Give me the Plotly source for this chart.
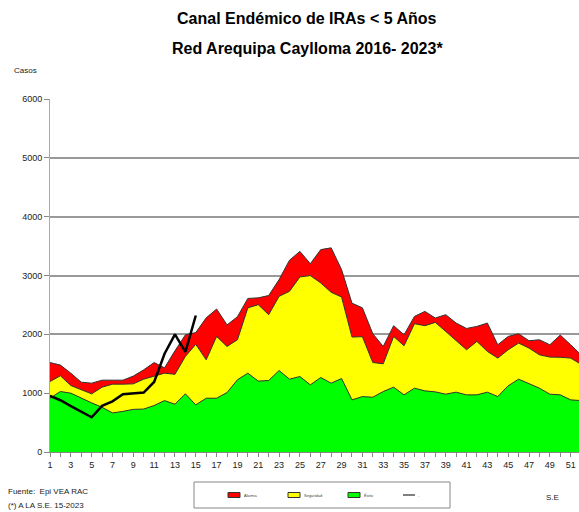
import plotly.graph_objects as go

semanas = list(range(1, 53))

# limites del canal endemico (casos por semana)
alarma = [1520, 1477, 1340, 1187, 1170, 1221, 1221, 1221, 1290, 1397,
          1520, 1430, 1720, 1990, 2030, 2280, 2430, 2160, 2300, 2610,
          2620, 2660, 2930, 3260, 3410, 3200, 3440, 3470, 3100, 2530,
          2450, 2010, 1794, 2147, 1993, 2305, 2390, 2277, 2334, 2192,
          2100, 2135, 2192, 1823, 1964, 2010, 1891, 1908, 1823, 1987,
          1823, 1650]
seguridad = [1198, 1295, 1130, 1056, 988, 1102, 1153, 1153, 1158, 1238,
             1283, 1340, 1320, 1624, 1830, 1567, 1964, 1794, 1908, 2450,
             2504, 2334, 2646, 2731, 2976, 2998, 2874, 2714, 2635, 1954,
             1960, 1521, 1499, 1964, 1806, 2181, 2147, 2203, 2050, 1896,
             1738, 1880, 1710, 1596, 1738, 1851, 1766, 1652, 1613, 1610,
             1596, 1490]
exito = [914, 1028, 1000, 914, 835, 760, 665, 690, 725, 730,
         790, 874, 812, 988, 801, 914, 914, 1010, 1227, 1340,
         1205, 1215, 1385, 1238, 1283, 1141, 1266, 1170, 1249, 886,
         942, 931, 1028, 1102, 971, 1085, 1039, 1022, 983, 1017,
         971, 971, 1017, 942, 1124, 1238, 1158, 1085, 983, 971,
         886, 874]
semanas_2023 = list(range(1, 16))
casos_2023 = [955, 880, 780, 680, 590, 785, 860, 980, 1000, 1010,
              1190, 1670, 2000, 1700, 2320]

series = [("Alarma", alarma, "#ff0000"),
          ("Seguridad", seguridad, "#ffff00"),
          ("Éxito", exito, "#00ff00")]

fuente = "Liberation Sans Narrow, Arial Narrow, Liberation Sans, sans-serif"

fig = go.Figure()
for nombre, valores, color in series:
    fig.add_trace(go.Scatter(x=semanas, y=valores, name=nombre, mode="lines",
                             fill="tozeroy", fillcolor=color,
                             line=dict(color="#333333", width=1)))
fig.add_trace(go.Scatter(x=semanas_2023, y=casos_2023, name="-", mode="lines",
                         line=dict(color="#000000", width=2.5)))

fig.update_layout(
    width=579, height=512,
    margin=dict(l=50, r=0, t=99, b=60),
    paper_bgcolor="white", plot_bgcolor="white",
    font=dict(family=fuente, size=9, color="#222222"),
    showlegend=False,
    xaxis=dict(range=[1, 51.8], tickvals=semanas,
               ticktext=[str(s) if s % 2 else "" for s in semanas],
               ticks="outside", ticklen=4, tickcolor="#888888",
               showline=True, linecolor="#888888", showgrid=False,
               zeroline=False, tickfont=dict(size=9)),
    yaxis=dict(range=[0, 6000], dtick=1000, ticks="outside", ticklen=5,
               tickcolor="#888888", showline=True, linecolor="#aaaaaa",
               gridcolor="#999999", gridwidth=1.5, zeroline=False,
               tickfont=dict(size=9)),
)

# titulos y notas
fig.add_annotation(text="<b>Canal Endémico de IRAs < 5 Años</b>", xref="paper", yref="paper",
                   x=0.486, y=1.0, yshift=81, yanchor="middle", showarrow=False,
                   font=dict(size=16, color="#000000"))
fig.add_annotation(text="<b>Red Arequipa Caylloma 2016- 2023*</b>", xref="paper", yref="paper",
                   x=0.486, y=1.0, yshift=51, yanchor="middle", showarrow=False,
                   font=dict(size=16, color="#000000"))
fig.add_annotation(text="Casos", xref="paper", yref="paper", x=0, y=1, xshift=-38,
                   yshift=29, xanchor="left", yanchor="middle", showarrow=False,
                   font=dict(size=8))
fig.add_annotation(text="Fuente:  Epi VEA RAC", xref="paper", yref="paper", x=0, y=0,
                   xshift=-44, yshift=-39, xanchor="left", yanchor="middle",
                   showarrow=False, font=dict(size=8))
fig.add_annotation(text="(*) A LA S.E. 15-2023", xref="paper", yref="paper", x=0, y=0,
                   xshift=-44, yshift=-53, xanchor="left", yanchor="middle",
                   showarrow=False, font=dict(size=8))
fig.add_annotation(text="S.E", xref="paper", yref="paper", x=1, y=0, xshift=-18,
                   yshift=-45, yanchor="middle", showarrow=False, font=dict(size=8))

# leyenda dibujada como en el original (caja con muestras pequenas)
px = lambda v: (v - 50) / 529
py = lambda v: (452 - v) / 353
fig.add_shape(type="rect", xref="paper", yref="paper", x0=px(194), x1=px(450),
              y0=py(482), y1=py(508), line=dict(color="#888888", width=1),
              fillcolor="white")
for i, (nombre, valores, color) in enumerate(series):
    x0 = 228 + i * 60
    fig.add_shape(type="rect", xref="paper", yref="paper", x0=px(x0), x1=px(x0 + 12),
                  y0=py(497.5), y1=py(492.5), fillcolor=color,
                  line=dict(color="#333333", width=1))
    fig.add_annotation(text=nombre, xref="paper", yref="paper", x=px(x0 + 14),
                       y=py(495), xanchor="left", yanchor="middle", showarrow=False,
                       font=dict(size=4, color="#444444"))
fig.add_shape(type="line", xref="paper", yref="paper", x0=px(403), x1=px(415),
              y0=py(495), y1=py(495), line=dict(color="#555555", width=1.5))
fig.add_annotation(text="-", xref="paper", yref="paper", x=px(416), y=py(495),
                   xanchor="left", yanchor="middle", showarrow=False,
                   font=dict(size=4, color="#444444"))

# drop the default body margin so the figure fills the window exactly
fig.write_html("out.html", config={"displayModeBar": False},
               post_script="document.body.style.margin='0px';"
                           "document.body.style.overflow='hidden';")
